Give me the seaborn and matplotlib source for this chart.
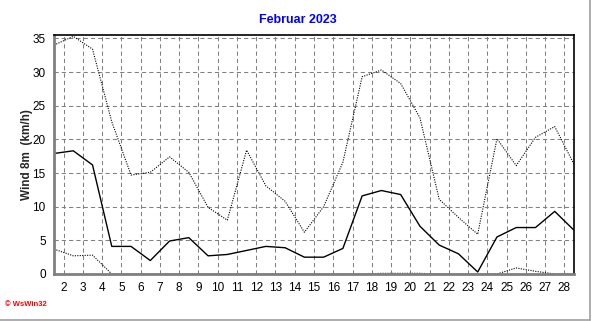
import matplotlib
matplotlib.use("Agg")
import matplotlib.pyplot as plt
from matplotlib.ticker import MultipleLocator
import seaborn as sns
import pandas as pd
import numpy as np

days = list(range(1, 29))
wind_max = [34.0, 35.3, 33.4, 22.6, 14.7, 15.1, 17.4, 15.1, 9.9, 8.0, 18.4, 13.1, 10.8, 6.2,
            10.0, 16.6, 29.3, 30.3, 28.3, 23.2, 11.1, 8.4, 5.9, 20.1, 16.1, 20.3, 21.9, 16.3]
wind_mean = [17.9, 18.3, 16.2, 4.1, 4.1, 2.0, 4.9, 5.4, 2.7, 2.9, 3.5, 4.1, 3.9, 2.5,
             2.5, 3.8, 11.6, 12.4, 11.8, 7.1, 4.3, 3.0, 0.3, 5.5, 6.9, 6.9, 9.3, 6.5]
wind_min = [3.7, 2.7, 2.8, 0, 0, 0, 0, 0, 0, 0, 0, 0, 0, 0,
            0, 0, 0, 0.1, 0.1, 0.1, 0, 0, 0, 0, 0.9, 0.4, 0, 0]
tick_days = list(range(2, 29))
title = "Februar 2023"
ylabel = "Wind 8m  (km/h)"

df = pd.DataFrame({"pos": [d + 0.5 for d in days], "max": wind_max,
                   "mean": wind_mean, "min": wind_min})

sns.set_style("white")
plt.rcParams["font.family"] = ["Liberation Sans", "DejaVu Sans"]

fig = plt.figure(figsize=(5.92, 3.21), dpi=100)
ax = fig.add_axes([54 / 592, 1 - 274 / 321, (574 - 54) / 592, (274 - 35) / 321])

dot = (0, (1, 1.2))
sns.lineplot(data=df, x="pos", y="max", ax=ax, color="black", lw=0.8, linestyle=dot)
sns.lineplot(data=df, x="pos", y="min", ax=ax, color="black", lw=0.8, linestyle=dot)
sns.lineplot(data=df, x="pos", y="mean", ax=ax, color="black", lw=1.0)

ax.set_xlim(1.5, 28.5)
ax.set_ylim(0, 35.5)
ax.set_xticks(tick_days)
ax.set_xticklabels([str(d) for d in tick_days])
ax.xaxis.set_minor_locator(MultipleLocator(0.25))
ax.yaxis.set_major_locator(MultipleLocator(5))
ax.yaxis.set_minor_locator(MultipleLocator(1))
ax.grid(True, which="major", color="#808080", linestyle=(0, (4, 3)), lw=0.75)
ax.set_axisbelow(True)

ax.tick_params(axis="both", which="major", labelsize=8.5, colors="#808080",
               labelcolor="black", direction="out", length=3, width=1)
ax.tick_params(axis="both", which="minor", colors="#808080", direction="out",
               length=2.5, width=0.8)
ax.tick_params(axis="x", which="major", pad=3)
ax.tick_params(axis="y", which="major", pad=2, length=4)

for s in ("left", "bottom"):
    ax.spines[s].set_color("#808080")
    ax.spines[s].set_linewidth(2)
for s in ("top", "right"):
    ax.spines[s].set_color("black")
    ax.spines[s].set_linewidth(1.2)

ax.set_xlabel("")
ax.set_ylabel(ylabel, fontsize=8.5, fontweight="bold")
ax.yaxis.set_label_coords((33 - 54) / 520, 0.5)
fig.text(298 / 592, 1 - 20 / 321, title, ha="center", va="center", color="#0000ff",
         fontsize=9, fontweight="bold")
fig.text(5 / 592, 1 - 304 / 321, "\u00a9 WsWin32", ha="left", va="center",
         color="#ff0000", fontsize=5.5, fontweight="bold")

fig.add_artist(plt.Line2D([0, 590 / 592], [1 - 319.5 / 321] * 2, color="#a0a0a0", lw=1.2,
                          transform=fig.transFigure))
fig.add_artist(plt.Line2D([590 / 592] * 2, [1 - 319.5 / 321, 1], color="#a0a0a0", lw=1.2,
                          transform=fig.transFigure))

fig.savefig("out.png", dpi=100)
